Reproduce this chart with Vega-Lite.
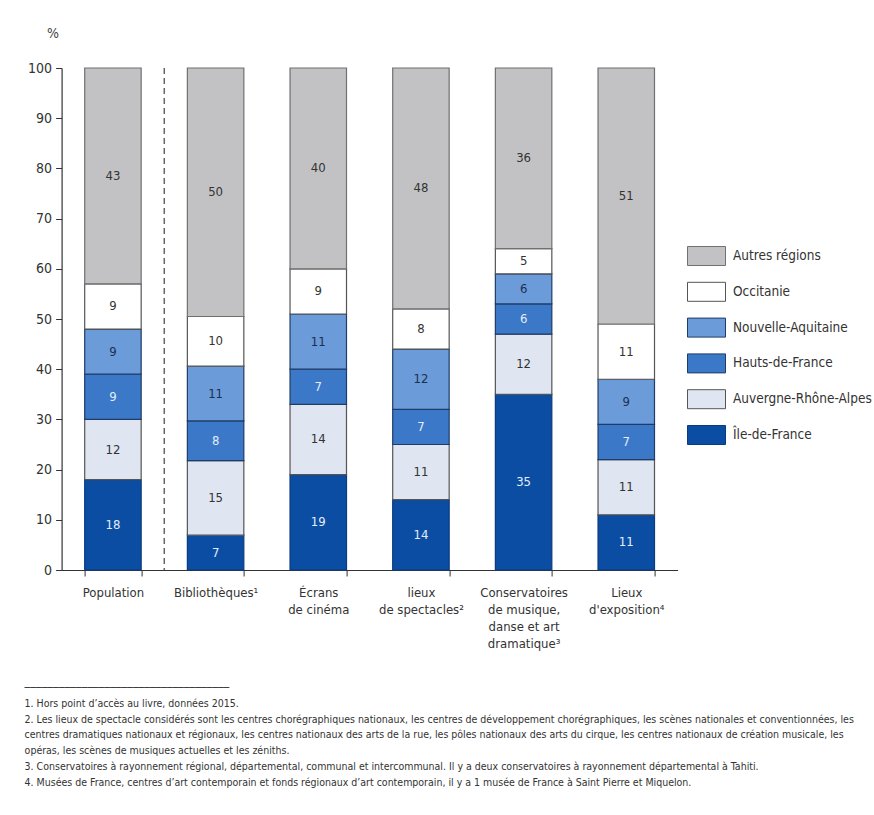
{
  "$schema": "https://vega.github.io/schema/vega-lite/v6.json",
  "width": 616,
  "height": 502,
  "autosize": {"type": "none"},
  "padding": {"left": 61.6, "top": 68, "right": 196.4, "bottom": 245},
  "background": "white",
  "config": {"font": "DejaVu Sans Condensed, Liberation Sans, sans-serif", "view": {"stroke": null}},
  "title": {
    "text": [
      "────────────────────────────────────",
      "1. Hors point d’accès au livre, données 2015.",
      "2. Les lieux de spectacle considérés sont les centres chorégraphiques nationaux, les centres de développement chorégraphiques, les scènes nationales et conventionnées, les",
      "centres dramatiques nationaux et régionaux, les centres nationaux des arts de la rue, les pôles nationaux des arts du cirque, les centres nationaux de création musicale, les",
      "opéras, les scènes de musiques actuelles et les zéniths.",
      "3. Conservatoires à rayonnement régional, départemental, communal et intercommunal. Il y a deux conservatoires à rayonnement départemental à Tahiti.",
      "4. Musées de France, centres d’art contemporain et fonds régionaux d’art contemporain, il y a 1 musée de France à Saint Pierre et Miquelon."
    ],
    "orient": "bottom",
    "anchor": "start",
    "frame": "group",
    "font": "DejaVu Sans Condensed, Liberation Sans, sans-serif",
    "fontSize": 10.5,
    "fontWeight": "normal",
    "color": "#333333",
    "lineHeight": 15.8,
    "offset": 33,
    "dx": -37
  },
  "data": {
    "values": [
      {"cat": "Population", "region": "Île-de-France", "value": 18},
      {"cat": "Population", "region": "Auvergne-Rhône-Alpes", "value": 12},
      {"cat": "Population", "region": "Hauts-de-France", "value": 9},
      {"cat": "Population", "region": "Nouvelle-Aquitaine", "value": 9},
      {"cat": "Population", "region": "Occitanie", "value": 9},
      {"cat": "Population", "region": "Autres régions", "value": 43},
      {"cat": "Bibliothèques¹", "region": "Île-de-France", "value": 7},
      {"cat": "Bibliothèques¹", "region": "Auvergne-Rhône-Alpes", "value": 15},
      {"cat": "Bibliothèques¹", "region": "Hauts-de-France", "value": 8},
      {"cat": "Bibliothèques¹", "region": "Nouvelle-Aquitaine", "value": 11},
      {"cat": "Bibliothèques¹", "region": "Occitanie", "value": 10},
      {"cat": "Bibliothèques¹", "region": "Autres régions", "value": 50},
      {"cat": "Écrans|de cinéma", "region": "Île-de-France", "value": 19},
      {"cat": "Écrans|de cinéma", "region": "Auvergne-Rhône-Alpes", "value": 14},
      {"cat": "Écrans|de cinéma", "region": "Hauts-de-France", "value": 7},
      {"cat": "Écrans|de cinéma", "region": "Nouvelle-Aquitaine", "value": 11},
      {"cat": "Écrans|de cinéma", "region": "Occitanie", "value": 9},
      {"cat": "Écrans|de cinéma", "region": "Autres régions", "value": 40},
      {"cat": "lieux|de spectacles²", "region": "Île-de-France", "value": 14},
      {"cat": "lieux|de spectacles²", "region": "Auvergne-Rhône-Alpes", "value": 11},
      {"cat": "lieux|de spectacles²", "region": "Hauts-de-France", "value": 7},
      {"cat": "lieux|de spectacles²", "region": "Nouvelle-Aquitaine", "value": 12},
      {"cat": "lieux|de spectacles²", "region": "Occitanie", "value": 8},
      {"cat": "lieux|de spectacles²", "region": "Autres régions", "value": 48},
      {"cat": "Conservatoires|de musique,|danse et art|dramatique³", "region": "Île-de-France", "value": 35},
      {"cat": "Conservatoires|de musique,|danse et art|dramatique³", "region": "Auvergne-Rhône-Alpes", "value": 12},
      {"cat": "Conservatoires|de musique,|danse et art|dramatique³", "region": "Hauts-de-France", "value": 6},
      {"cat": "Conservatoires|de musique,|danse et art|dramatique³", "region": "Nouvelle-Aquitaine", "value": 6},
      {"cat": "Conservatoires|de musique,|danse et art|dramatique³", "region": "Occitanie", "value": 5},
      {"cat": "Conservatoires|de musique,|danse et art|dramatique³", "region": "Autres régions", "value": 36},
      {"cat": "Lieux|d'exposition⁴", "region": "Île-de-France", "value": 11},
      {"cat": "Lieux|d'exposition⁴", "region": "Auvergne-Rhône-Alpes", "value": 11},
      {"cat": "Lieux|d'exposition⁴", "region": "Hauts-de-France", "value": 7},
      {"cat": "Lieux|d'exposition⁴", "region": "Nouvelle-Aquitaine", "value": 9},
      {"cat": "Lieux|d'exposition⁴", "region": "Occitanie", "value": 11},
      {"cat": "Lieux|d'exposition⁴", "region": "Autres régions", "value": 51}
    ]
  },
  "layer": [
    {
      "transform": [
        {"calculate": "indexof(['Île-de-France','Auvergne-Rhône-Alpes','Hauts-de-France','Nouvelle-Aquitaine','Occitanie','Autres régions'], datum.region)", "as": "k"},
        {"stack": "value", "groupby": ["cat"], "sort": [{"field": "k", "order": "ascending"}], "offset": "normalize", "as": ["y0", "y1"]}
      ],
      "mark": {"type": "bar", "strokeWidth": 1.2},
      "encoding": {
        "x": {
          "field": "cat",
          "type": "nominal",
          "scale": {
            "domain": ["Population", "Bibliothèques¹", "Écrans|de cinéma", "lieux|de spectacles²", "Conservatoires|de musique,|danse et art|dramatique³", "Lieux|d'exposition⁴"],
            "paddingInner": 0.45,
            "paddingOuter": 0.225
          },
          "axis": {
            "title": null,
            "labelAngle": 0,
            "tickBand": "extent",
            "tickSize": 6,
            "labelPadding": 10,
            "labelFontSize": 13,
            "labelColor": "#333333",
            "labelLineHeight": 17,
            "labelBaseline": "top",
            "labelExpr": "split(datum.label, '|')",
            "labelLimit": 0,
            "domainColor": "#333333",
            "tickColor": "#333333",
            "domainWidth": 1.2,
            "tickWidth": 1
          }
        },
        "y": {
          "field": "y0",
          "type": "quantitative",
          "scale": {"domain": [0, 1], "nice": false},
          "axis": {
            "title": "%",
            "titleAngle": 0,
            "titleX": -9,
            "titleY": -35,
            "titleAlign": "center",
            "titleBaseline": "middle",
            "titleFontSize": 14,
            "titleFontWeight": "normal",
            "titleColor": "#444444",
            "values": [0, 0.1, 0.2, 0.3, 0.4, 0.5, 0.6, 0.7, 0.8, 0.9, 1],
            "labelExpr": "format(datum.value * 100, 'd')",
            "labelFontSize": 14,
            "labelColor": "#333333",
            "tickSize": 6,
            "labelPadding": 4,
            "grid": false,
            "domainColor": "#333333",
            "tickColor": "#333333",
            "domainWidth": 1.2
          }
        },
        "y2": {"field": "y1"},
        "color": {
          "field": "region",
          "type": "nominal",
          "scale": {
            "domain": ["Autres régions", "Occitanie", "Nouvelle-Aquitaine", "Hauts-de-France", "Auvergne-Rhône-Alpes", "Île-de-France"],
            "range": ["#c2c2c4", "#ffffff", "#6b9bd8", "#3b78c7", "#dfe6f2", "#0b4da3"]
          },
          "legend": {
            "title": null,
            "orient": "none",
            "legendX": 625.4,
            "legendY": 168.5,
            "padding": 0,
            "symbolType": "M-1,-0.5L1,-0.5L1,0.5L-1,0.5Z",
            "symbolSize": 1444,
            "symbolStrokeColor": "#555555",
            "symbolStrokeWidth": 1,
            "symbolOpacity": 1,
            "labelFontSize": 13.5,
            "labelColor": "#333333",
            "labelOffset": 7,
            "rowPadding": 4.8
          }
        },
        "stroke": {
          "field": "region",
          "type": "nominal",
          "scale": {
            "domain": ["Autres régions", "Occitanie", "Nouvelle-Aquitaine", "Hauts-de-France", "Auvergne-Rhône-Alpes", "Île-de-France"],
            "range": ["#707070", "#555555", "#1f3c68", "#1f3c68", "#555555", "#0a3a80"]
          },
          "legend": null
        }
      }
    },
    {
      "transform": [
        {"calculate": "indexof(['Île-de-France','Auvergne-Rhône-Alpes','Hauts-de-France','Nouvelle-Aquitaine','Occitanie','Autres régions'], datum.region)", "as": "k"},
        {"stack": "value", "groupby": ["cat"], "sort": [{"field": "k", "order": "ascending"}], "offset": "normalize", "as": ["y0", "y1"]},
        {"calculate": "(datum.y0 + datum.y1) / 2", "as": "ym"}
      ],
      "mark": {"type": "text", "fontSize": 13, "baseline": "middle", "align": "center"},
      "encoding": {
        "x": {"field": "cat", "type": "nominal"},
        "y": {"field": "ym", "type": "quantitative"},
        "text": {"field": "value", "type": "quantitative"},
        "color": {
          "condition": [
            {"test": "datum.region === 'Île-de-France' || datum.region === 'Hauts-de-France'", "value": "#e3edf9"},
            {"test": "datum.region === 'Nouvelle-Aquitaine'", "value": "#1d2f52"}
          ],
          "value": "#333333"
        }
      }
    },
    {
      "data": {"values": [{"cat": "Bibliothèques¹"}]},
      "mark": {"type": "rule", "strokeDash": [6, 4], "color": "#666666", "strokeWidth": 1.5},
      "encoding": {
        "x": {"field": "cat", "type": "nominal", "bandPosition": -0.409}
      }
    }
  ]
}
